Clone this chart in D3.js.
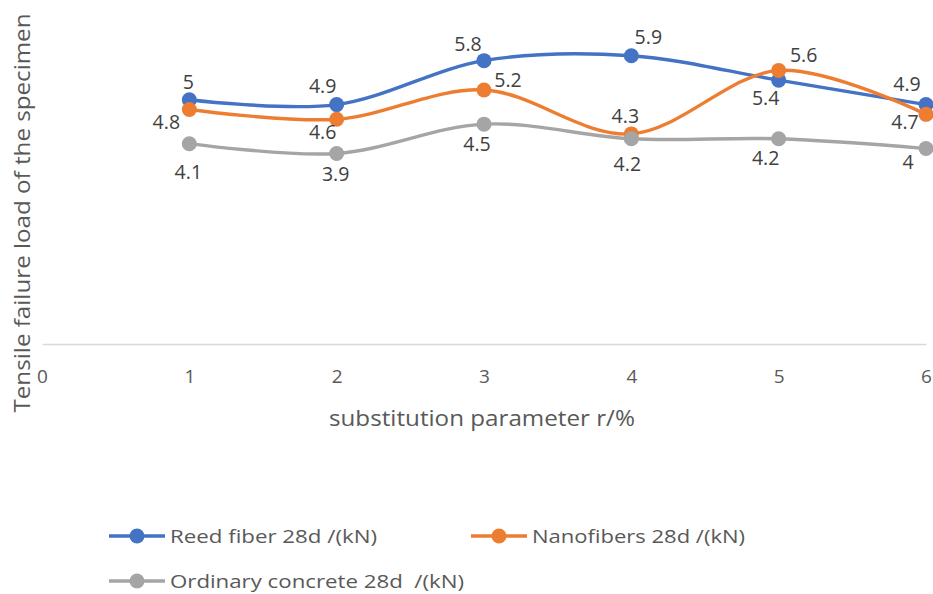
<!DOCTYPE html>
<html>
<head>
<meta charset="utf-8">
<script src="https://cdn.jsdelivr.net/npm/d3@7"></script>
<style>
  html, body { margin: 0; padding: 0; background: #ffffff; }
  svg { display: block; }
  text { white-space: pre; }
</style>
</head>
<body>
<svg id="chart" width="933" height="594"></svg>
<script>
// ---- data ----
const xValues = [1, 2, 3, 4, 5, 6];
const xTicks = [0, 1, 2, 3, 4, 5, 6];
const reedFiber = [5, 4.9, 5.8, 5.9, 5.4, 4.9];
const nanofibers = [4.8, 4.6, 5.2, 4.3, 5.6, 4.7];
const ordinaryConcrete = [4.1, 3.9, 4.5, 4.2, 4.2, 4];
const seriesNames = ["Reed fiber 28d /(kN)", "Nanofibers 28d /(kN)", "Ordinary concrete 28d  /(kN)"];
const xTitle = "substitution parameter r/%";
const yTitle = "Tensile failure load of the specimen";

// ---- layout / style ----
const colors = ["#4472C4", "#ED7D31", "#A5A5A5"];
const labelOffsets = [
  [[-1, -18], [-14, -18], [-16, -16], [17, -19], [-13, 18], [-19, -20]],
  [[-23, 13], [-14, 13], [24, -10], [-6, -18], [25, -15], [-21, 8]],
  [[-1, 28], [-1, 21], [-7, 20], [-4, 25], [-13, 19], [-18, 14]]
];

const svg = d3.select("#chart");
const x = d3.scaleLinear().domain([0, 6]).range([42, 926]);
const y = d3.scaleLinear().domain([0, 7]).range([344, 2]);

// x axis
const xAxis = d3.axisBottom(x).tickValues(xTicks).tickSize(0).tickPadding(0).tickFormat(d3.format("d"));
const gx = svg.append("g").attr("transform", "translate(0,344)").call(xAxis);
gx.select(".domain").attr("stroke", "#D9D9D9").attr("stroke-width", 1.5);
gx.selectAll(".tick text")
  .attr("font-family", "'Open Sans', sans-serif")
  .attr("font-size", 19)
  .attr("fill", "#595959")
  .attr("dy", null)
  .attr("y", 39);

// axis titles
svg.append("text")
  .attr("x", 482).attr("y", 426)
  .attr("text-anchor", "middle")
  .attr("font-family", "'Open Sans', sans-serif")
  .attr("font-size", 22)
  .attr("fill", "#595959")
  .attr("textLength", 306).attr("lengthAdjust", "spacingAndGlyphs")
  .text(xTitle);

svg.append("text")
  .attr("transform", "translate(30,213) rotate(-90)")
  .attr("text-anchor", "middle")
  .attr("font-family", "'Open Sans', sans-serif")
  .attr("font-size", 22)
  .attr("fill", "#595959")
  .attr("textLength", 399).attr("lengthAdjust", "spacingAndGlyphs")
  .text(yTitle);

// series
const allSeries = [reedFiber, nanofibers, ordinaryConcrete];
const line = d3.line()
  .x((d, i) => x(xValues[i]))
  .y(d => y(d))
  .curve(d3.curveCardinal.tension(0));

allSeries.forEach((vals, s) => {
  const g = svg.append("g");
  g.append("path")
    .attr("d", line(vals))
    .attr("fill", "none")
    .attr("stroke", colors[s])
    .attr("stroke-width", 3.4)
    .attr("stroke-linecap", "round");
  g.selectAll("circle").data(vals).join("circle")
    .attr("cx", (d, i) => x(xValues[i]))
    .attr("cy", d => y(d))
    .attr("r", 7.5)
    .attr("fill", colors[s]);
});

allSeries.forEach((vals, s) => {
  svg.append("g").selectAll("text").data(vals).join("text")
    .attr("x", (d, i) => x(xValues[i]) + labelOffsets[s][i][0])
    .attr("y", (d, i) => y(d) + labelOffsets[s][i][1])
    .attr("dy", "0.35em")
    .attr("text-anchor", "middle")
    .attr("font-family", "'Open Sans', sans-serif")
    .attr("font-size", 19.5)
    .attr("fill", "#404040")
    .text(d => d);
});

// legend
const legendItems = [
  { name: seriesNames[0], color: colors[0], lx: 109, ly: 536, tw: 207 },
  { name: seriesNames[1], color: colors[1], lx: 471, ly: 536, tw: 213 },
  { name: seriesNames[2], color: colors[2], lx: 109, ly: 581, tw: 294 }
];
const lg = svg.append("g").selectAll("g").data(legendItems).join("g")
  .attr("transform", d => `translate(${d.lx},${d.ly})`);
lg.append("line").attr("x1", 0).attr("x2", 56).attr("y1", 0).attr("y2", 0)
  .attr("stroke", d => d.color).attr("stroke-width", 3.4);
lg.append("circle").attr("cx", 28).attr("cy", 0).attr("r", 7.5).attr("fill", d => d.color);
lg.append("text")
  .attr("x", 61).attr("y", 0).attr("dy", "0.35em")
  .attr("font-family", "'Open Sans', sans-serif")
  .attr("font-size", 19)
  .attr("fill", "#595959")
  .attr("textLength", d => d.tw).attr("lengthAdjust", "spacingAndGlyphs")
  .text(d => d.name);
</script>
</body>
</html>
